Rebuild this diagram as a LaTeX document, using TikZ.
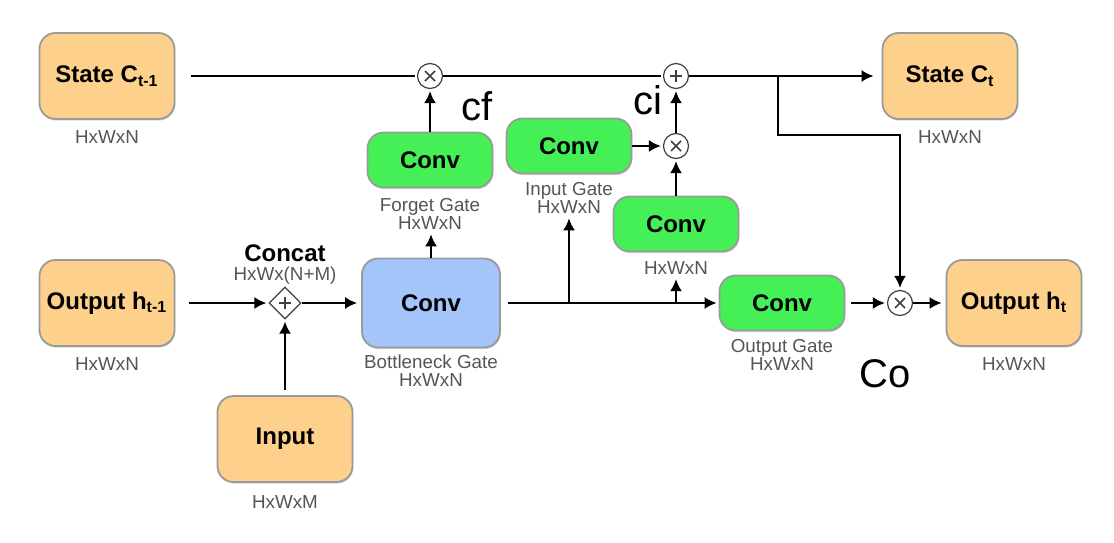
\documentclass[tikz,border=0pt]{standalone}
\usepackage{fontspec}
\setmainfont{Liberation Sans}
\usetikzlibrary{positioning,shapes.geometric,arrows.meta,shadows}
\definecolor{stateorange}{HTML}{FDD08C}
\definecolor{convgreen}{HTML}{44F055}
\definecolor{neckblue}{HTML}{A3C5FA}
\definecolor{boxline}{HTML}{9A9A9A}
\definecolor{dimgray}{HTML}{555555}
\tikzset{
    >={Latex[length=6pt,width=6pt]},
    flow/.style={line width=1pt, shorten >=1pt},
    box/.style={draw=boxline, line width=0.9pt, rounded corners=8pt,
        font=\bfseries\fontsize{12}{14}\selectfont,
        drop shadow={shadow xshift=0.4pt, shadow yshift=-0.8pt, opacity=0.3}},
    statebox/.style={box, fill=stateorange, minimum width=67.5pt, minimum height=43pt},
    convbox/.style={box, fill=convgreen, minimum width=62.5pt, minimum height=27.5pt},
    neckbox/.style={box, fill=neckblue, minimum width=69pt, minimum height=44.5pt},
    dims/.style={text=dimgray, font=\fontsize{9.4}{9}\selectfont, align=center, inner sep=1pt},
    mul/.style={circle, draw=black!75, line width=0.6pt, fill=white, minimum size=12.5pt, inner sep=0pt,
        path picture={\draw[line width=0.8pt, shift={(path picture bounding box.center)}]
            (-2.5pt,-2.5pt) -- (2.5pt,2.5pt) (-2.5pt,2.5pt) -- (2.5pt,-2.5pt);}},
    add/.style={circle, draw=black!75, line width=0.6pt, fill=white, minimum size=12.5pt, inner sep=0pt,
        path picture={\draw[line width=0.8pt, shift={(path picture bounding box.center)}]
            (-3pt,0pt) -- (3pt,0pt) (0pt,-3pt) -- (0pt,3pt);}},
    concatop/.style={diamond, draw=black!75, line width=0.6pt, fill=white, minimum size=16pt, inner sep=0pt,
        path picture={\draw[line width=0.8pt, shift={(path picture bounding box.center)}]
            (-3pt,0pt) -- (3pt,0pt) (0pt,-3pt) -- (0pt,3pt);}},
    note/.style={font=\fontsize{20}{20}\selectfont},
}

\begin{document}
\begin{tikzpicture}[x=0.5pt, y=-0.5pt]
    \useasboundingbox (0,0) rectangle (1114,542);
    % boxes
    \node[statebox] (sprev) at (107,76) {State C\textsubscript{t-1}};
    \node[statebox] (snext) at (950,76) {State C\textsubscript{t}};
    \node[statebox] (hprev) at (107,303) {Output h\textsubscript{t-1}};
    \node[statebox] (hnext) at (1014,303) {Output h\textsubscript{t}};
    \node[statebox] (inp) at (285,439) {Input};
    \node[neckbox] (neck) at (431,303) {Conv};
    \node[convbox] (fconv) at (430,160) {Conv};
    \node[convbox] (iconv) at (569,146) {Conv};
    \node[convbox] (gconv) at (676,224) {Conv};
    \node[convbox] (oconv) at (782,303) {Conv};
    % operators
    \node[concatop] (cat) at (285,303) {};
    \node[mul] (fmul) at (430,76) {};
    \node[add] (cadd) at (676,76) {};
    \node[mul] (imul) at (676,146) {};
    \node[mul] (omul) at (900,303) {};
    % sizes
    \node[dims, below=4pt of sprev] (sprevdim) {HxWxN};
    \node[dims, below=4pt of snext] (snextdim) {HxWxN};
    \node[dims, below=4pt of hprev] (hprevdim) {HxWxN};
    \node[dims, below=4pt of hnext] (hnextdim) {HxWxN};
    \node[dims, below=5pt of inp] (inpdim) {HxWxM};
    \node[dims, below=2pt of neck] (necklbl) {Bottleneck Gate\\HxWxN};
    \node[dims, below=4pt of fconv] (flbl) {Forget Gate\\HxWxN};
    \node[dims, below=3pt of iconv] (ilbl) {Input Gate\\HxWxN};
    \node[dims, below=3.5pt of gconv] (glbl) {HxWxN};
    \node[dims, below=3pt of oconv] (olbl) {Output Gate\\HxWxN};
    \node[dims, above=0pt of cat] (catdim) {HxWx(N+M)};
    \node[above=0pt of catdim, inner sep=1pt, font=\bfseries\fontsize{12}{14}\selectfont] (cattitle) {Concat};
    % cell state
    \draw[flow, shorten <=8pt] (sprev) -- (fmul);
    \draw[flow] (fmul) -- (cadd);
    \draw[flow, ->, shorten >=4pt] (cadd) -- (snext);
    \coordinate (split) at (778,76);
    \coordinate (bend) at (778,135);
    \draw[flow, ->] (split) -- (bend) -| (omul);
    % gates
    \draw[flow, ->] (fconv) -- (fmul);
    \draw[flow, ->] (iconv) -- (imul);
    \draw[flow, ->] (gconv) -- (imul);
    \draw[flow, ->] (imul) -- (cadd);
    \draw[flow, ->, shorten <=7pt] (hprev) -- (cat);
    \draw[flow, ->, shorten <=2.5pt] (inp) -- (cat);
    \draw[flow, ->, shorten >=2pt] (cat) -- (neck);
    \draw[flow, ->] (neck.north) -- (neck.north |- flbl.south);
    \draw[flow, ->, shorten <=3.5pt] (neck) -- (oconv);
    \draw[flow, ->] (ilbl.south |- neck.east) -- (ilbl);
    \draw[flow, ->] (glbl.south |- neck.east) -- (glbl);
    \draw[flow, ->, shorten <=3pt] (oconv) -- (omul);
    \draw[flow, ->, shorten >=2pt] (omul) -- (hnext);
    % handwritten notes
    \node[note] (cf) at (477,106) {cf};
    \node[note] (ci) at (648,100) {ci};
    \node[note] (co) at (885,374) {Co};
\end{tikzpicture}
\end{document}
